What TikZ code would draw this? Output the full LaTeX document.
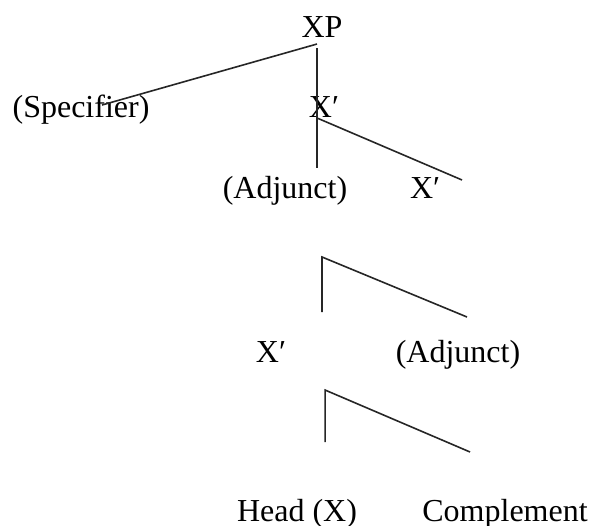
\documentclass[tikz,border=0pt]{standalone}
\usepackage{fontspec}
\setmainfont{Liberation Serif}
\usepackage{tikz}
\usetikzlibrary{positioning,calc}
\tikzset{
  cat/.style   ={inner sep=0pt, outer sep=0pt, anchor=base, font=\fontsize{12}{14}\selectfont},
  branch/.style={line width=0.6pt, draw=black!85},
}
\newcommand{\xbarlbl}{X′}

\begin{document}
\begin{tikzpicture}
  \useasboundingbox (0,0) rectangle (7.789,-6.920);
  % labels
  \node[cat] (xp)    at (4.244,-0.488) {XP};
  \node[cat] (spec)  at (1.068,-1.542) {(Specifier)};
  \node[cat] (xbar)  at (4.270,-1.555) {\xbarlbl};
  \node[cat] (adja)  at (3.756,-2.610) {(Adjunct)};
  \node[cat] (xbarb) at (5.602,-2.610) {\xbarlbl};
  \node[cat] (xbarc) at (3.572,-4.771) {\xbarlbl};
  \node[cat] (adjb)  at (6.036,-4.771) {(Adjunct)};
  \node[cat] (head)  at (3.914,-6.867) {Head (X)};
  \node[cat] (comp)  at (6.656,-6.867) {Complement};
  % branch ends
  \coordinate (xpfoot)   at (4.178,-0.580);
  \coordinate (xpstem)   at (4.178,-0.633);
  \coordinate (specend)  at (1.344,-1.384);
  \coordinate (xbarfoot) at (4.178,-1.555);
  \coordinate (adjaend)  at (4.178,-2.214);
  \coordinate (xbarbend) at (6.089,-2.372);
  \coordinate (brka)     at (4.244,-3.387);
  \coordinate (brkaleg)  at (4.244,-4.112);
  \coordinate (brkaend)  at (6.155,-4.178);
  \coordinate (brkb)     at (4.284,-5.140);
  \coordinate (brkbleg)  at (4.284,-5.826);
  \coordinate (brkbend)  at (6.195,-5.957);
  % branches
  \draw[branch] (xpfoot) -- (specend);
  \draw[branch] (xpstem) -- (adjaend);
  \draw[branch] (xbarfoot) -- (xbarbend);
  \draw[branch] (brkaleg) -- (brka) -- (brkaend);
  \draw[branch] (brkbleg) -- (brkb) -- (brkbend);
\end{tikzpicture}
\end{document}
